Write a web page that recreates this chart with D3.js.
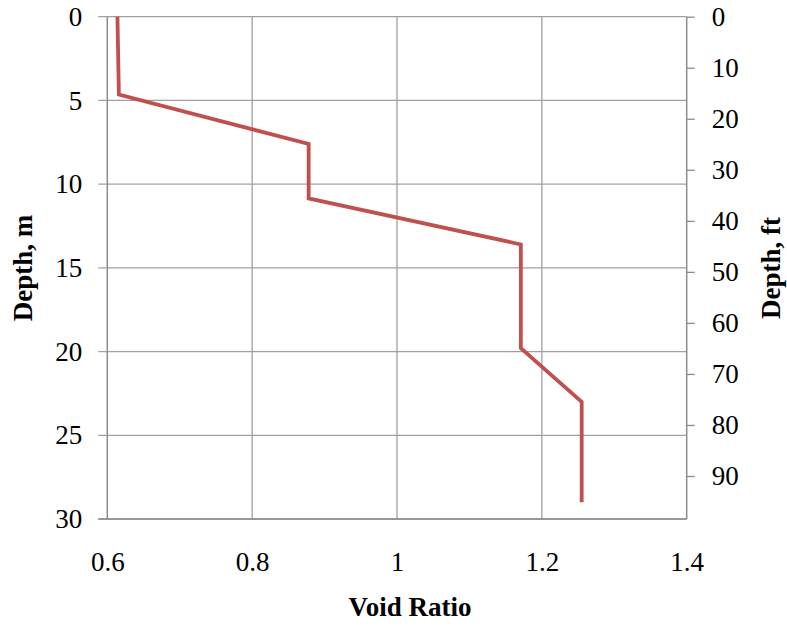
<!DOCTYPE html>
<html><head><meta charset="utf-8">
<script src="https://cdn.jsdelivr.net/npm/d3@7"></script>
<style>body{margin:0;background:#fff}svg{display:block}text{font-family:"Liberation Serif","Times New Roman",serif}</style>
</head><body><svg id="c" width="787" height="626"></svg>
<script>
const voidRatio = [0.614, 0.616, 0.878, 0.878, 1.171, 1.171, 1.255, 1.255];
const depthM    = [0,     4.65,  7.6,   10.85, 13.6,  19.8,  23.0,  29.0];
const xTicks = [0.6, 0.8, 1.0, 1.2, 1.4];
const yTicksM = [0, 5, 10, 15, 20, 25, 30];
const yTicksFt = [0, 10, 20, 30, 40, 50, 60, 70, 80, 90];

const FS = 27;
const svg = d3.select("#c");
const L = 107.3, R = 686.7, T = 16.7, B = 519;
const x = d3.scaleLinear().domain([0.6, 1.4]).range([L, R]);
const y = d3.scaleLinear().domain([0, 30]).range([T, B]);
const yft = d3.scaleLinear().domain([0, 30 / 0.3048]).range([T, B]);

const grid = svg.append("g");
grid.selectAll(".vg").data(xTicks.slice(1, -1)).enter().append("line")
  .attr("x1", d => x(d)).attr("x2", d => x(d)).attr("y1", T).attr("y2", B)
  .attr("stroke", "#a0a0a0").attr("stroke-width", 1.3);
grid.selectAll(".hg").data(yTicksM).enter().append("line")
  .attr("x1", L - 9).attr("x2", R).attr("y1", d => y(d)).attr("y2", d => y(d))
  .attr("stroke", "#a0a0a0").attr("stroke-width", 1.3);

svg.append("line").attr("x1", L).attr("x2", L).attr("y1", T).attr("y2", B)
  .attr("stroke", "#8c8c8c").attr("stroke-width", 1.5);

const rAxis = d3.axisRight(yft).tickValues(yTicksFt).tickSize(8).tickPadding(17).tickFormat(d3.format("d"));
const rg = svg.append("g").attr("transform", `translate(${R},0)`).call(rAxis);
rg.attr("font-size", FS).attr("font-family", "Liberation Serif");
rg.select(".domain").attr("stroke", "#8c8c8c").attr("stroke-width", 1.5).attr("d", `M0,${T}V${B}`);
rg.selectAll(".tick line").attr("stroke", "#8c8c8c").attr("stroke-width", 1.3);
rg.selectAll(".tick text").attr("fill", "#000");

const lAxis = d3.axisLeft(y).tickValues(yTicksM).tickSize(0).tickPadding(25).tickFormat(d3.format("d"));
const lg = svg.append("g").attr("transform", `translate(${L},0)`).call(lAxis);
lg.attr("font-size", FS).attr("font-family", "Liberation Serif");
lg.select(".domain").remove();
lg.selectAll(".tick text").attr("fill", "#000");

const bAxis = d3.axisBottom(x).tickValues(xTicks).tickSize(0).tickFormat(d => d === 1 ? "1" : d3.format(".1f")(d));
const bg = svg.append("g").attr("transform", `translate(0,${B})`).call(bAxis);
bg.attr("font-size", FS).attr("font-family", "Liberation Serif");
bg.select(".domain").attr("stroke", "#8c8c8c").attr("stroke-width", 1.5).attr("d", `M${L - 9},0H${R}`);
bg.selectAll(".tick text").attr("fill", "#000").attr("y", 52).attr("dy", 0);

const pts = voidRatio.map((v, i) => [v, depthM[i]]);
svg.append("path").datum(pts)
  .attr("d", d3.line().x(d => x(d[0])).y(d => y(d[1])))
  .attr("fill", "none").attr("stroke", "#C0504D").attr("stroke-width", 3.8)
  .attr("stroke-linejoin", "miter");

svg.append("text").attr("x", 410).attr("y", 616).attr("text-anchor", "middle")
  .attr("font-size", FS).attr("font-weight", "bold").text("Void Ratio");
svg.append("text").attr("transform", "translate(32,268) rotate(-90)").attr("text-anchor", "middle")
  .attr("font-size", FS).attr("font-weight", "bold").text("Depth, m");
svg.append("text").attr("transform", "translate(780,268) rotate(-90)").attr("text-anchor", "middle")
  .attr("font-size", FS).attr("font-weight", "bold").text("Depth, ft");
</script></body></html>
